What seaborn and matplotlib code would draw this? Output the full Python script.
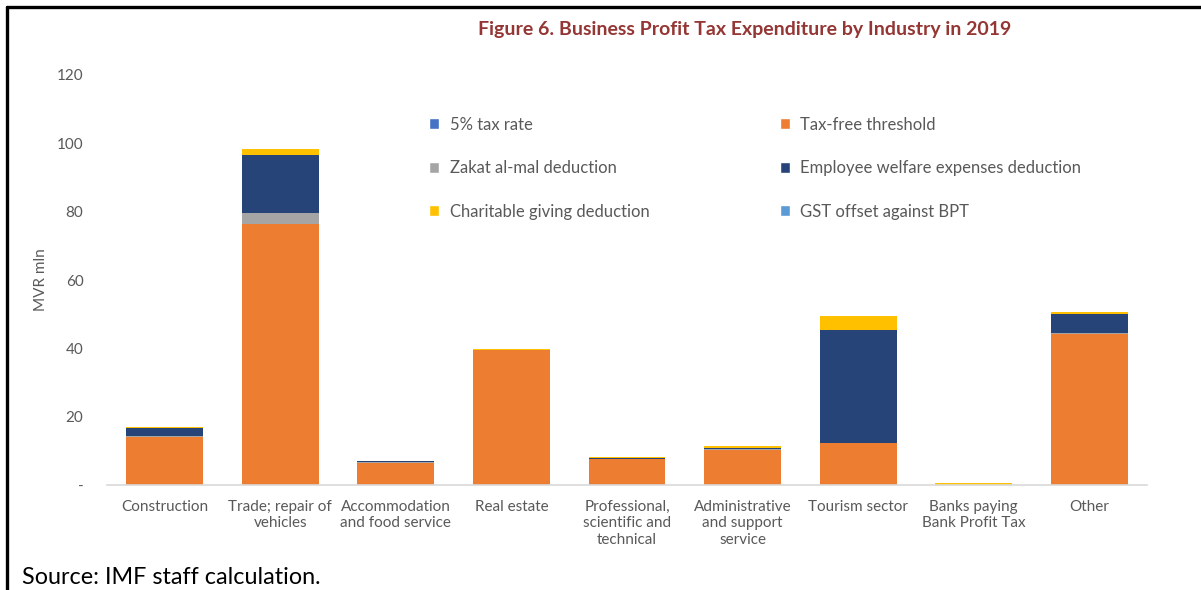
import numpy as np
import pandas as pd
import matplotlib.pyplot as plt
import seaborn as sns
from matplotlib.lines import Line2D
from matplotlib.patches import Patch

industries = ["Construction", "Trade; repair of\nvehicles", "Accommodation\nand food service",
              "Real estate", "Professional,\nscientific and\ntechnical",
              "Administrative\nand support\nservice", "Tourism sector",
              "Banks paying\nBank Profit Tax", "Other"]
tax_rate_5 = [0, 0, 0, 0, 0, 0, 0, 0, 0]
tax_free = [14.0, 76.5, 6.5, 39.4, 7.5, 10.3, 12.2, 0.0, 44.2]
zakat = [0.3, 3.0, 0.2, 0.1, 0.2, 0.2, 0.1, 0.0, 0.2]
welfare = [2.5, 17.2, 0.3, 0.1, 0.3, 0.4, 33.2, 0.0, 5.6]
charity = [0.2, 1.7, 0.1, 0.2, 0.2, 0.4, 3.9, 0.7, 0.5]
gst_offset = [0, 0, 0, 0, 0, 0, 0, 0, 0]

series = ["5% tax rate", "Tax-free threshold", "Zakat al-mal deduction",
          "Employee welfare expenses deduction", "Charitable giving deduction",
          "GST offset against BPT"]
colors = ["#4472C4", "#ED7D31", "#A5A5A5", "#264478", "#FFC000", "#5B9BD5"]

df = pd.DataFrame({"industry": industries, series[0]: tax_rate_5, series[1]: tax_free,
                   series[2]: zakat, series[3]: welfare, series[4]: charity,
                   series[5]: gst_offset})
cum = df[series].cumsum(axis=1)

sns.set_style("white")
plt.rcParams['font.family'] = ['Lato', 'DejaVu Sans']
grey = "#595959"

fig = plt.figure(figsize=(12.01, 5.9), dpi=100)
ax = fig.add_axes([107/1201, 1 - 485/590, 1040/1201, 410/590])

# stacked bars: draw cumulative totals from the top layer down
for name, col in reversed(list(zip(series, colors))):
    sns.barplot(x=df["industry"], y=cum[name], color=col, width=0.665,
                saturation=1, ax=ax, linewidth=0)

ax.set_xlim(-0.5, 8.5)
ax.set_ylim(0, 120)
ax.set_yticks(range(0, 121, 20))
ax.set_yticklabels(["-"] + [str(v) for v in range(20, 121, 20)])
ax.tick_params(axis="y", length=0, pad=17, labelsize=11, labelcolor=grey)
ax.tick_params(axis="x", length=0, pad=11, labelsize=11, labelcolor=grey)
for lab in ax.get_xticklabels():
    lab.set_linespacing(1.2)
ax.set_xlabel("")
ax.set_ylabel("MVR mln", fontsize=11, color=grey, labelpad=6)
for s in ["top", "right", "left"]:
    ax.spines[s].set_visible(False)
ax.spines["bottom"].set_color("#D9D9D9")
ax.spines["bottom"].set_linewidth(1.2)

order = [0, 2, 4, 1, 3, 5]
handles = [Patch(facecolor=colors[i], label=series[i]) for i in order]
ax.legend(handles=handles, ncol=2, loc="upper left", bbox_to_anchor=(0.2954, 0.935),
          frameon=False, fontsize=12, labelcolor=grey, handlelength=0.6,
          handleheight=0.6, handletextpad=0.62, columnspacing=7.85, labelspacing=1.65)

fig.text(745/1201, 1 - 30/590, "Figure 6. Business Profit Tax Expenditure by Industry in 2019",
         ha="center", va="center", fontsize=14, fontweight="bold", color="#943634")
fig.text(22/1201, 1 - 577/590, "Source: IMF staff calculation.", ha="left", va="center",
         fontsize=16.8, color="black")

fig.add_artist(Line2D([7/1201, 7/1201], [0, 1 - 7/590], color="black", lw=2.4))
fig.add_artist(Line2D([7/1201, 1], [1 - 7/590, 1 - 7/590], color="black", lw=2.4))

plt.savefig("out.png", dpi=100)
